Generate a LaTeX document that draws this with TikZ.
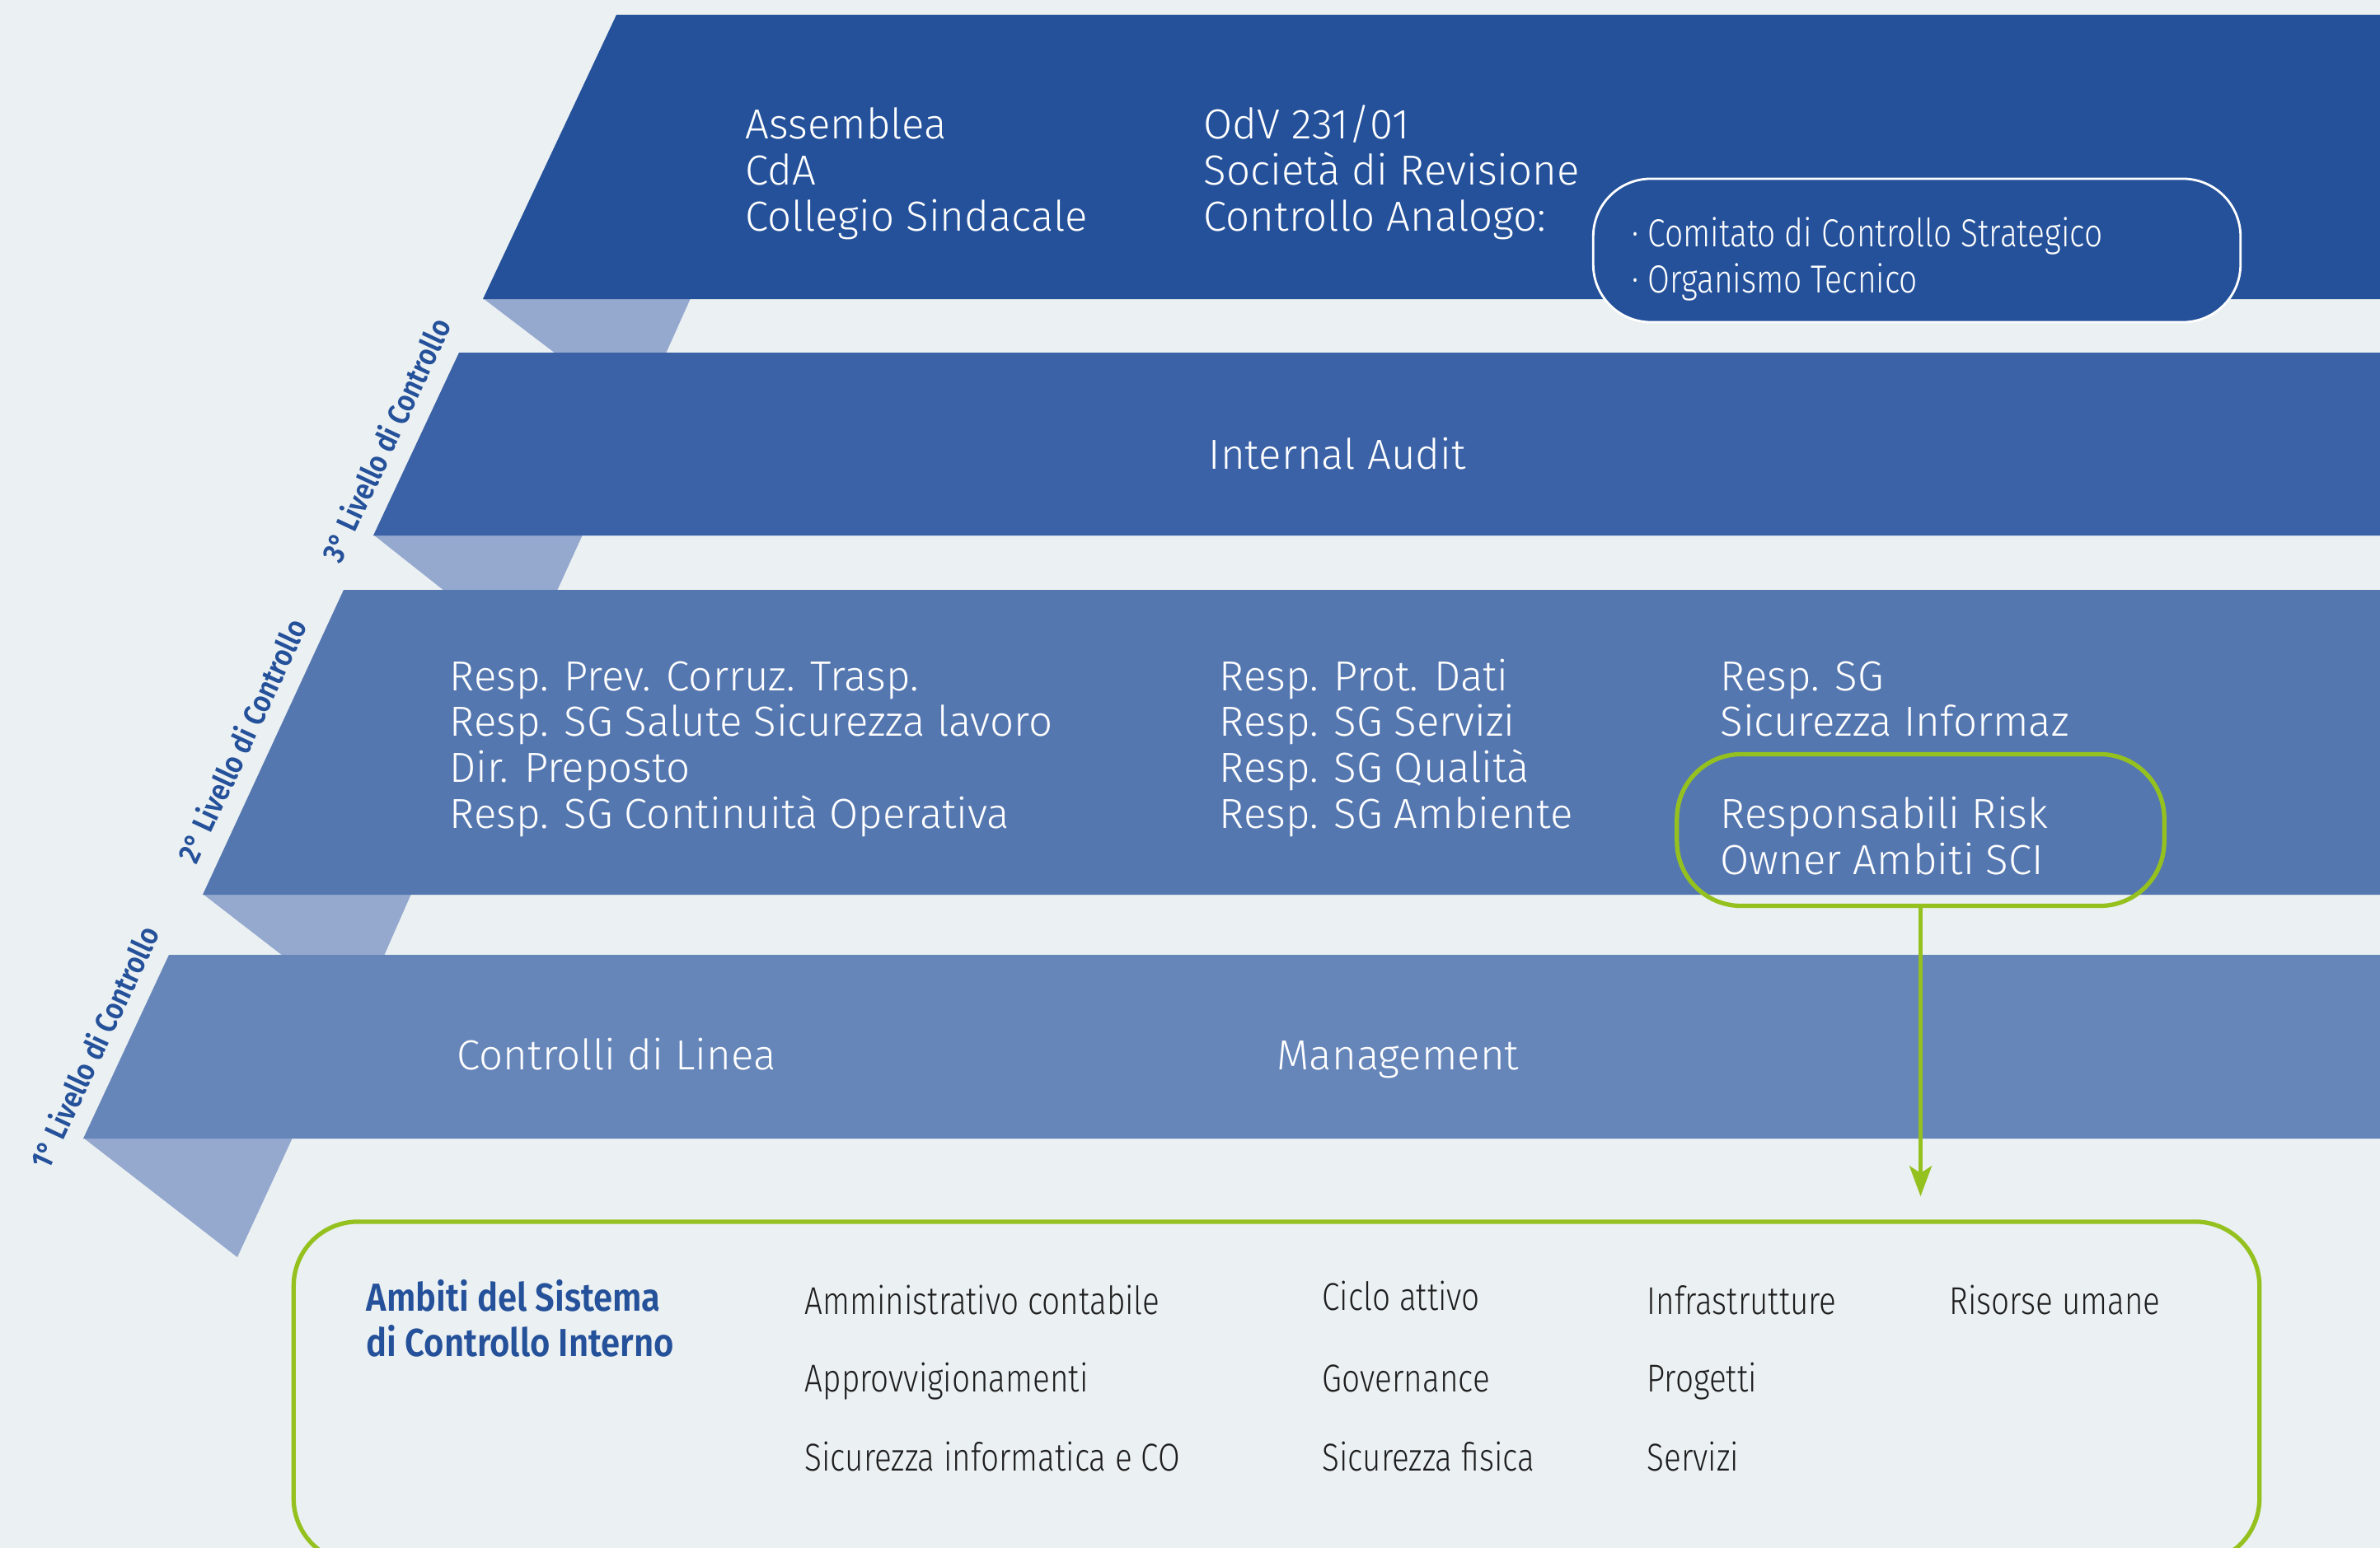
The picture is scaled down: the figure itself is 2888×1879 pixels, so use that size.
\documentclass[tikz,border=0pt]{standalone}
\usepackage{fontspec}
\setmainfont{Fira Sans Light}
\newfontfamily\condf{Fira Sans Light}[FakeStretch=0.82]
\newfontfamily\boldcf{Fira Sans SemiBold}[FakeStretch=0.88]
\usetikzlibrary{arrows.meta}
\definecolor{bgc}{HTML}{EBF0F2}
\definecolor{bandA}{HTML}{24519A}
\definecolor{bandB}{HTML}{3B62A6}
\definecolor{bandC}{HTML}{5577B0}
\definecolor{bandD}{HTML}{6686BA}
\definecolor{shadec}{HTML}{95A9CF}
\definecolor{greenc}{HTML}{95C11F}
\definecolor{labblue}{HTML}{24519A}
\definecolor{darktxt}{HTML}{1E1E1E}
\tikzset{
  bandtext/.style={anchor=base west, inner sep=0pt, text=white, font={\fontsize{14.5}{17}\selectfont}},
  condtext/.style={anchor=base west, inner sep=0pt, text=white, font={\condf\fontsize{13.5}{16}\selectfont}},
  itemtext/.style={anchor=base west, inner sep=0pt, text=darktxt, font={\condf\fontsize{13.4}{16}\selectfont}},
  hdrtext/.style={anchor=base west, inner sep=0pt, text=labblue, font={\boldcf\fontsize{13.5}{16}\selectfont}},
  levellabel/.style={inner sep=0pt, text=labblue, rotate=65, font={\boldcf\fontsize{10.5}{12}\selectfont}},
  whitebox/.style={draw=white, line width=0.8pt, fill=bandA, rounded corners=0.7cm, inner sep=0pt},
  greenbox/.style={draw=greenc, line width=1.5pt, rounded corners=0.78cm, inner sep=0pt},
  greenarrow/.style={draw=greenc, line width=1.3pt, -{Stealth[length=10.5pt, width=7.7pt, inset=2.5pt]}},
}
\begin{document}
\begin{tikzpicture}[x=0.01cm, y=-0.01cm]
\useasboundingbox (0,0) rectangle (2888,1879);
\fill[bgc] (0,0) rectangle (2888,1879);
\begin{scope}
\clip (0,0) rectangle (2888,1879);
% folds (shadows)
\fill[shadec] (586,362) -- (838,362) -- (808,429) -- (674,429) -- cycle;
\fill[shadec] (453,649) -- (707,649) -- (676,717) -- (539,717) -- cycle;
\fill[shadec] (246,1085) -- (499,1085) -- (466,1160) -- (343,1160) -- cycle;
\fill[shadec] (101,1381) -- (355,1381) -- (288,1526) -- cycle;
% bands
\fill[bandA] (748,18) -- (2900,18) -- (2900,363) -- (586,363) -- cycle;
\fill[bandB] (557,428) -- (2900,428) -- (2900,650) -- (453,650) -- cycle;
\fill[bandC] (417,716) -- (2900,716) -- (2900,1086) -- (246,1086) -- cycle;
\fill[bandD] (205,1159) -- (2900,1159) -- (2900,1382) -- (101,1382) -- cycle;

% bottom box
\node[greenbox, minimum width=23.84cm, minimum height=4.14cm] (amb) at (1549,1690) {};
\end{scope}

% level labels
\node[levellabel] (L3) at (468,534) {3° Livello di Controllo};
\node[levellabel] (L2) at (293,899) {2° Livello di Controllo};
\node[levellabel] (L1) at (114,1271) {1° Livello di Controllo};

% band 1
\foreach \t [count=\i] in {Assemblea, CdA, Collegio Sindacale}
  \node[bandtext] (a1-\i) at (904,{169+(\i-1)*55.5}) {\t};
\foreach \t [count=\i] in {OdV 231/01, Società di Revisione, Controllo Analogo:}
  \node[bandtext] (a2-\i) at (1460,{169+(\i-1)*55.5}) {\t};
\node[whitebox, minimum width=7.85cm, minimum height=1.74cm] (wbox) at (2326,304) {};
\node[condtext] (w1) at (1980,299.5) {· Comitato di Controllo Strategico};
\node[condtext] (w2) at (1980,355) {· Organismo Tecnico};

% band 2
\node[bandtext] (ia) at (1466,569) {Internal Audit};

% band 3
\foreach \t [count=\i] in {Resp. Prev. Corruz. Trasp., Resp. SG Salute Sicurezza lavoro, Dir. Preposto, Resp. SG Continuità Operativa}
  \node[bandtext] (c1-\i) at (545,{838+(\i-1)*55.8}) {\t};
\foreach \t [count=\i] in {Resp. Prot. Dati, Resp. SG Servizi, Resp. SG Qualità, Resp. SG Ambiente}
  \node[bandtext] (c2-\i) at (1479,{838+(\i-1)*55.8}) {\t};
\node[bandtext] (c3-1) at (2087,838) {Resp. SG};
\node[bandtext] (c3-2) at (2087,893.8) {Sicurezza Informaz};
\node[greenbox, minimum width=5.91cm, minimum height=1.84cm] (rr) at (2330.5,1007.5) {};
\node[bandtext] (r1) at (2087,1005.4) {Responsabili Risk};
\node[bandtext] (r2) at (2087,1061.2) {Owner Ambiti SCI};

% band 4
\node[bandtext] (l1) at (554,1298) {Controlli di Linea};
\node[bandtext] (l2) at (1549,1298) {Management};

% arrow
\draw[greenarrow, shorten >=8pt] (rr.south) -- (rr.south |- amb.north);

% bottom box content
\node[hdrtext] (h1) at (444,1591) {Ambiti del Sistema};
\node[hdrtext] (h2) at (444,1646.5) {di Controllo Interno};
\node[itemtext] (i11) at (976,1595) {Amministrativo contabile};
\node[itemtext] (i12) at (976,1689) {Approvvigionamenti};
\node[itemtext] (i13) at (976,1785) {Sicurezza informatica e CO};
\node[itemtext] (i21) at (1604,1590) {Ciclo attivo};
\node[itemtext] (i22) at (1604,1689) {Governance};
\node[itemtext] (i23) at (1604,1785) {Sicurezza fisica};
\node[itemtext] (i31) at (1998,1595) {Infrastrutture};
\node[itemtext] (i32) at (1998,1689) {Progetti};
\node[itemtext] (i33) at (1998,1785) {Servizi};
\node[itemtext] (i41) at (2365,1595) {Risorse umane};
\end{tikzpicture}
\end{document}
